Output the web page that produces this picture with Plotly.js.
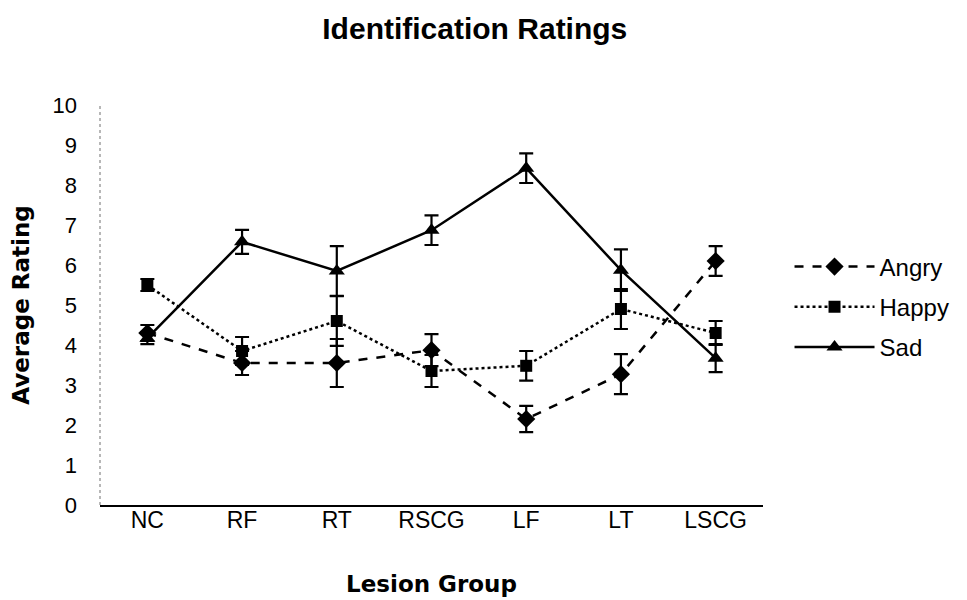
<!DOCTYPE html>
<html>
<head>
<meta charset="utf-8">
<script src="https://cdn.plot.ly/plotly-3.0.1.min.js"></script>
<style>html,body{margin:0;padding:0;background:#fff;}#chart{width:967px;height:600px;}</style>
</head>
<body>
<div id="chart"></div>
<script>
const groups = ["NC", "RF", "RT", "RSCG", "LF", "LT", "LSCG"];
const angry = [4.3, 3.55, 3.55, 3.87, 2.15, 3.27, 6.1];
const angryErr = [0.2, 0.3, 0.6, 0.4, 0.33, 0.5, 0.37];
const happy = [5.5, 3.85, 4.6, 3.35, 3.48, 4.9, 4.3];
const happyErr = [0.15, 0.35, 0.62, 0.4, 0.37, 0.5, 0.3];
const sad = [4.17, 6.58, 5.85, 6.87, 8.42, 5.87, 3.67];
const sadErr = [0.15, 0.3, 0.62, 0.37, 0.37, 0.52, 0.35];
const yTicks = [0, 1, 2, 3, 4, 5, 6, 7, 8, 9, 10];

function series(name, y, err, dash, symbol, size) {
  return {
    type: 'scatter', mode: 'lines+markers', name: name, legendgroup: name,
    x: groups, y: y,
    line: {color: '#000', width: 2.5, dash: dash},
    marker: {color: '#000', symbol: symbol, size: size},
    error_y: {type: 'data', array: err, visible: true, color: '#000', thickness: 2.2, width: 7}
  };
}

const data = [
  series('Angry', angry, angryErr, 'dash', 'diamond', 14),
  series('Happy', happy, happyErr, 'dot', 'square', 12),
  series('Sad', sad, sadErr, 'solid', 'triangle-up', 14)
];

const layout = {
  width: 967, height: 600,
  margin: {l: 100, r: 202, t: 105, b: 95},
  paper_bgcolor: '#fff', plot_bgcolor: '#fff',
  font: {family: 'Liberation Sans, Arial, sans-serif', color: '#000', size: 22},
  title: {text: '<b>Identification Ratings</b>', x: 0.491, xanchor: 'center', y: 0.952, yanchor: 'middle',
          font: {size: 30, family: 'Liberation Sans, Arial, sans-serif'}},
  xaxis: {
    type: 'category', range: [-0.5, 6.5],
    showgrid: false, zeroline: false,
    showline: true, linecolor: '#000', linewidth: 1.5,
    ticks: '', ticklabelstandoff: -6, tickfont: {size: 23},
    title: {text: '<b>Lesion Group</b>', standoff: 44, font: {size: 23, family: 'DejaVu Sans, sans-serif'}}
  },
  yaxis: {
    range: [0, 10], tickvals: yTicks,
    showgrid: false, zeroline: false, showline: false,
    ticks: '', ticklabelstandoff: 22, tickfont: {size: 22},
    title: {text: '<b>Average Rating</b>', standoff: 16, font: {size: 23, family: 'DejaVu Sans, sans-serif'}}
  },
  shapes: [
    {type: 'line', xref: 'paper', yref: 'paper', x0: 0, x1: 0, y0: 0, y1: 1,
     line: {color: '#888', width: 1.2, dash: 'dot'}}
  ],
  showlegend: true,
  legend: {x: 1.04, xanchor: 'left', y: 0.495, yanchor: 'middle',
           font: {size: 24}, bgcolor: 'rgba(0,0,0,0)', itemwidth: 80, tracegroupgap: 6}
};

Plotly.newPlot('chart', data, layout, {displayModeBar: false, staticPlot: true});
</script>
</body>
</html>
